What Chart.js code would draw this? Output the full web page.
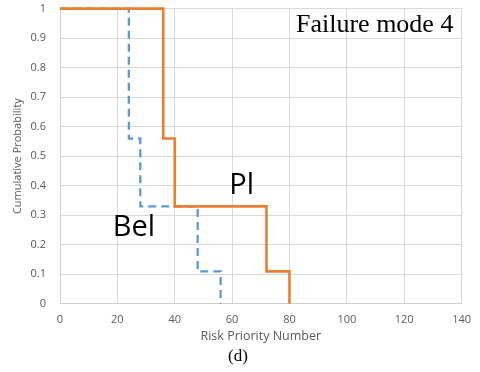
<!DOCTYPE html>
<html>
<head>
<meta charset="utf-8">
<script src="https://cdn.jsdelivr.net/npm/chart.js@4"></script>
<style>
  html, body { margin: 0; padding: 0; background: #fff; }
  #wrap { width: 480px; height: 372px; position: relative; }
</style>
</head>
<body>
<div id="wrap"><canvas id="chart" width="480" height="372"></canvas></div>
<script>
// step points (RPN where the curve drops, cumulative probability after the drop)
const plRpn = [0, 36, 40, 72, 80];
const plProb = [1, 0.56, 0.33, 0.11, 0];
const belRpn = [0, 24, 28, 48, 56];
const belProb = [1, 0.56, 0.33, 0.11, 0];
const xTicks = [0, 20, 40, 60, 80, 100, 120, 140];
const yTicks = [0, 0.1, 0.2, 0.3, 0.4, 0.5, 0.6, 0.7, 0.8, 0.9, 1];

function toPoints(xs, ys) {
    return xs.map((x, i) => ({ x: x, y: ys[i] }));
}

// labels drawn on top of the plot
const labelPlugin = {
    id: 'labels',
    afterDraw(chart) {
        const ctx = chart.ctx;
        const xs = chart.scales.x;
        const ys = chart.scales.y;
        ctx.save();
        ctx.fillStyle = '#000';
        ctx.textBaseline = 'alphabetic';
        ctx.font = '29px "Open Sans", sans-serif';
        ctx.fillText('Pl', xs.getPixelForValue(59), ys.getPixelForValue(0.372));
        ctx.fillText('Bel', xs.getPixelForValue(18.4), ys.getPixelForValue(0.229));
        ctx.font = '26px "Liberation Serif", serif';
        ctx.textBaseline = 'middle';
        ctx.fillText('Failure mode 4', 296, 25);
        ctx.font = '17px "Liberation Serif", serif';
        ctx.textAlign = 'center';
        ctx.fillText('(d)', 238, 357);
        ctx.restore();
    }
};

new Chart(document.getElementById('chart').getContext('2d'), {
    type: 'scatter',
    data: {
        datasets: [
            {
                label: 'Pl',
                data: toPoints(plRpn, plProb),
                showLine: true,
                stepped: 'before',
                borderColor: '#ED7D31',
                borderWidth: 2.6,
                pointRadius: 0,
                clip: false,
                order: 1
            },
            {
                label: 'Bel',
                data: toPoints(belRpn, belProb),
                showLine: true,
                stepped: 'before',
                borderColor: '#5B9BD5',
                borderWidth: 2.3,
                borderDash: [8, 5],
                pointRadius: 0,
                clip: false,
                order: 2
            }
        ]
    },
    options: {
        responsive: false,
        animation: false,
        layout: { padding: { left: 0, right: 17, top: 1, bottom: 28 } },
        plugins: {
            legend: { display: false },
            tooltip: { enabled: false }
        },
        scales: {
            x: {
                type: 'linear',
                min: 0,
                max: 140,
                afterBuildTicks(axis) {
                    axis.ticks = xTicks.map(v => ({ value: v }));
                },
                grid: { color: '#d9d9d9', drawTicks: false },
                border: { color: '#d0d0d0' },
                ticks: {
                    color: '#595959',
                    padding: 9,
                    font: { family: '"Open Sans", sans-serif', size: 11 }
                },
                title: {
                    display: true,
                    text: 'Risk Priority Number',
                    color: '#595959',
                    padding: { top: -6, bottom: 0 },
                    font: { family: '"Open Sans", sans-serif', size: 12.5 }
                }
            },
            y: {
                type: 'linear',
                min: 0,
                max: 1,
                afterBuildTicks(axis) {
                    axis.ticks = yTicks.map(v => ({ value: v }));
                },
                afterFit(axis) {
                    axis.width = 60;
                },
                grid: {
                    color: '#d9d9d9',
                    drawTicks: true,
                    tickLength: 12,
                    tickColor: 'rgba(0,0,0,0)'
                },
                border: { color: '#d0d0d0' },
                ticks: {
                    color: '#595959',
                    padding: 2,
                    font: { family: '"Open Sans", sans-serif', size: 11 },
                    callback: v => String(Math.round(v * 10) / 10)
                },
                title: {
                    display: true,
                    text: 'Cumulative Probability',
                    color: '#595959',
                    padding: { top: 11, bottom: 4 },
                    font: { family: '"Open Sans", sans-serif', size: 11 }
                }
            }
        }
    },
    plugins: [labelPlugin]
});
</script>
</body>
</html>
